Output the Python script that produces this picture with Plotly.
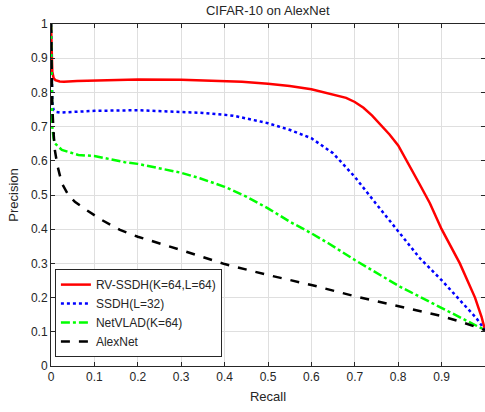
import plotly.graph_objects as go

rv_x = [0, 0.001, 0.003, 0.006, 0.01, 0.02, 0.03, 0.06, 0.1, 0.17, 0.2, 0.3, 0.4, 0.44, 0.5, 0.55, 0.6, 0.65, 0.68, 0.7, 0.72, 0.74, 0.76, 0.78, 0.8, 0.82, 0.85, 0.873, 0.9, 0.942, 0.977, 0.992, 0.998, 1.0]
rv_y = [1.0, 0.9, 0.86, 0.842, 0.836, 0.832, 0.831, 0.833, 0.835, 0.838, 0.838, 0.837, 0.834, 0.831, 0.825, 0.819, 0.809, 0.794, 0.784, 0.772, 0.755, 0.732, 0.705, 0.677, 0.645, 0.6, 0.53, 0.476, 0.4, 0.3, 0.2, 0.144, 0.115, 0.105]

ssdh_x = [0, 0.001, 0.003, 0.006, 0.01, 0.02, 0.05, 0.1, 0.2, 0.3, 0.35, 0.42, 0.5, 0.551, 0.6, 0.65, 0.7, 0.748, 0.8, 0.85, 0.9, 0.95, 0.98, 1.0]
ssdh_y = [1.0, 0.85, 0.77, 0.748, 0.743, 0.741, 0.743, 0.746, 0.748, 0.744, 0.74, 0.732, 0.71, 0.69, 0.666, 0.622, 0.553, 0.476, 0.393, 0.315, 0.251, 0.183, 0.14, 0.105]

nv_x = [0, 0.001, 0.003, 0.006, 0.009, 0.025, 0.063, 0.1, 0.17, 0.2, 0.3, 0.343, 0.4, 0.45, 0.5, 0.55, 0.6, 0.639, 0.7, 0.804, 0.9, 1.0]
nv_y = [1.0, 0.8, 0.7, 0.665, 0.651, 0.632, 0.617, 0.614, 0.596, 0.591, 0.565, 0.549, 0.524, 0.495, 0.461, 0.422, 0.388, 0.359, 0.31, 0.232, 0.17, 0.105]

ax_x = [0, 0.001, 0.003, 0.006, 0.009, 0.015, 0.025, 0.04, 0.055, 0.082, 0.117, 0.159, 0.2, 0.3, 0.4, 0.5, 0.6, 0.7, 0.804, 0.9, 0.95, 1.0]
ax_y = [1.0, 0.88, 0.76, 0.68, 0.63, 0.585, 0.534, 0.5, 0.48, 0.456, 0.427, 0.398, 0.378, 0.339, 0.298, 0.266, 0.237, 0.204, 0.173, 0.146, 0.127, 0.105]

x_ticks = [0, 0.1, 0.2, 0.3, 0.4, 0.5, 0.6, 0.7, 0.8, 0.9, 1]
y_ticks = [0, 0.1, 0.2, 0.3, 0.4, 0.5, 0.6, 0.7, 0.8, 0.9, 1]

FONT = "Liberation Sans, Arial"

fig = go.Figure()
fig.add_trace(go.Scatter(x=rv_x, y=rv_y, mode="lines", name="RV-SSDH(K=64,L=64)",
                         line=dict(color="#ff0000", width=2.5)))
fig.add_trace(go.Scatter(x=ssdh_x, y=ssdh_y, mode="lines", name="SSDH(L=32)",
                         line=dict(color="#0000ff", width=2.5, dash="dot")))
fig.add_trace(go.Scatter(x=nv_x, y=nv_y, mode="lines", name="NetVLAD(K=64)",
                         line=dict(color="#00ff00", width=2.5, dash="dashdot")))
fig.add_trace(go.Scatter(x=ax_x, y=ax_y, mode="lines", name="AlexNet",
                         line=dict(color="#000000", width=2.5, dash="dash")))

axis_common = dict(showgrid=True, gridcolor="#dfdfdf", gridwidth=1, zeroline=False,
                   showline=True, linecolor="#262626", linewidth=1, mirror="allticks",
                   ticks="inside", ticklen=4, tickcolor="#262626", automargin=False,
                   tickfont=dict(family=FONT, size=12, color="#262626"))

fig.update_xaxes(range=[0, 1], tickvals=x_ticks, ticktext=[str(v) for v in x_ticks],
                 title=dict(text="Recall", font=dict(family=FONT, size=13, color="#262626"), standoff=8),
                 **axis_common)
fig.update_yaxes(range=[0, 1], tickvals=y_ticks, ticktext=[str(v) for v in y_ticks],
                 title=dict(text="Precision", font=dict(family=FONT, size=13, color="#262626"), standoff=9),
                 **axis_common)

fig.update_layout(
    width=485, height=412,
    margin=dict(l=51, r=0, t=24, b=46, autoexpand=False),
    plot_bgcolor="white", paper_bgcolor="white",
    title=dict(text="CIFAR-10 on AlexNet", x=0.552, xanchor="center", y=0.985, yanchor="top",
               font=dict(family=FONT, size=13, color="#262626"), automargin=False),
    legend=dict(x=0.009, y=0.026, xanchor="left", yanchor="bottom",
                bgcolor="white", bordercolor="#262626", borderwidth=1,
                font=dict(family=FONT, size=12, color="#262626"),
                tracegroupgap=0),
    showlegend=True,
)

fig.write_html("out.html", config={"displayModeBar": False},
               post_script="document.body.style.margin='0';document.body.style.overflow='hidden';")
